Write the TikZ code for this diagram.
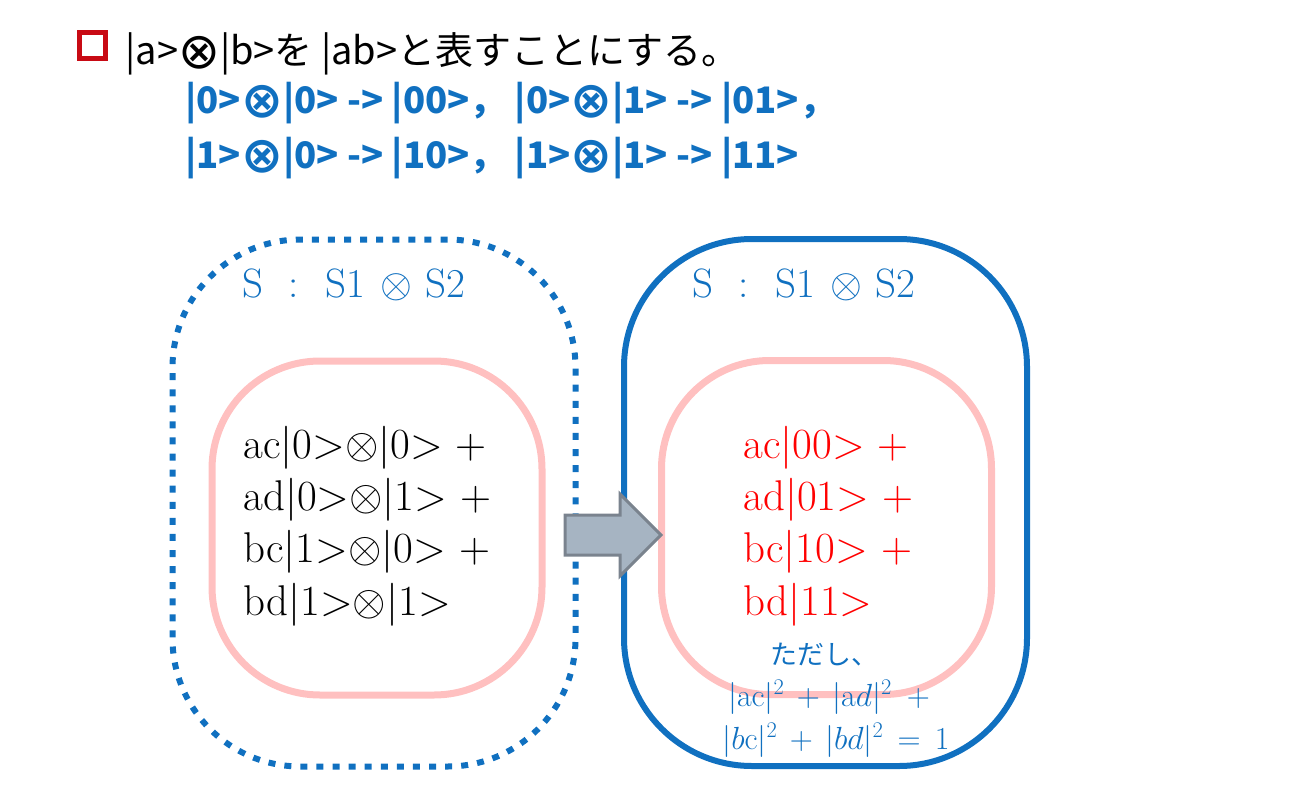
\documentclass[tikz,border=0pt]{standalone}
\usepackage{fix-cm}
\usepackage{fontspec}
\usepackage{amssymb}
\usepackage{tikz}
\usetikzlibrary{positioning}
\newfontfamily\jpfont{Noto Sans CJK JP}
\newfontfamily\symfont{DejaVu Sans}
\newcommand{\bigot}{{\symfont\fontsize{50}{50}\selectfont\raisebox{-4pt}{⊗}}}
\definecolor{qblue}{RGB}{16,112,192}
\definecolor{qpink}{RGB}{255,192,192}
\definecolor{qred}{RGB}{255,0,0}
\definecolor{qdarkred}{RGB}{200,10,20}
\definecolor{qgrayfill}{RGB}{166,180,194}
\definecolor{qgrayline}{RGB}{122,131,142}
\tikzset{every picture/.style={line width=0.75pt}}

\begin{document}
\begin{tikzpicture}[x=1pt,y=-1pt,
  outer/.style={rectangle,rounded corners=128pt,minimum width=403pt,minimum height=527pt,line width=6pt,draw=qblue},
  inner/.style={rectangle,rounded corners=108pt,minimum width=330pt,minimum height=334pt,line width=7pt,draw=qpink},
  ket/.style={anchor=base west,inner sep=0pt,font=\fontsize{43}{52}\selectfont},
  lbl/.style={anchor=base west,inner sep=0pt,text=qblue,font=\fontsize{41}{48}\selectfont},
  norm/.style={inner sep=0pt,text=qblue,font=\fontsize{32}{38}\selectfont},
  pairs/.style={anchor=base west,inner sep=0pt,text=qblue,font=\jpfont\bfseries\fontsize{36.5}{46}\selectfont}]
        \useasboundingbox (0,0) rectangle (1298,800);

        % heading
        \node[draw=qdarkred,line width=5pt,minimum size=26pt,inner sep=0pt] (mark) at (92.5,46) {};
        \node[anchor=base west,inner sep=0pt,font=\jpfont\fontsize{38}{44}\selectfont] (title) at (125,64)
            {|a>\bigot|b>を |ab>と表すことにする。};
        \node[pairs] (pairs1) at (185,113) {|0>\bigot|0> -> |00>， |0>\bigot|1> -> |01>，};
        \node[pairs] (pairs2) at (185,168) {|1>\bigot|0> -> |10>， |1>\bigot|1> -> |11>};

        % systems
        \node[outer,dash pattern=on 7pt off 9.08pt] (sepbox) at (374,503) {};
        \node[outer] (prodbox) at (825.5,502.5) {};
        \node[inner] (sepin) at (377,528) {};
        \node[inner] (prodin) at (826.5,527.5) {};

        \node[lbl] (seplbl) at (242,297) {S\hspace{25pt}:\hspace{27pt}S1\hspace{15pt}$\otimes$\hspace{13pt}S2};
        \node[lbl] (prodlbl) at (692,297) {S\hspace{25pt}:\hspace{27pt}S1\hspace{15pt}$\otimes$\hspace{13pt}S2};

        % separate kets
        \node[ket] (s00) at (243,458) {ac|0>$\otimes$|0> +};
        \node[ket] (s01) at (243,510) {ad|0>$\otimes$|1> +};
        \node[ket] (s10) at (243,562) {bc|1>$\otimes$|0> +};
        \node[ket] (s11) at (243,615) {bd|1>$\otimes$|1>};

        % joined kets
        \node[ket,text=qred] (p00) at (743,458) {ac|00> +};
        \node[ket,text=qred] (p01) at (743,510) {ad|01> +};
        \node[ket,text=qred] (p10) at (743,562) {bc|10> +};
        \node[ket,text=qred] (p11) at (743,615) {bd|11>};

        \node[inner sep=0pt,text=qblue,font=\jpfont\fontsize{27}{32}\selectfont] (note) at (824,655) {ただし、};
        \node[norm] (norm1) at (829,697) {$|\mathrm{ac}|^2 \,+\, |\mathrm{a}d|^2\ \,+$};
        \node[norm] (norm2) at (836,740) {$|b\mathrm{c}|^2 \,+\, |bd|^2 \,=\, 1$};

        % arrow
        \draw[line width=3pt,draw=qgrayline,fill=qgrayfill]
            (565,515) -- (620,515) -- (620,494) -- (661,535) -- (620,576) -- (620,555) -- (565,555) -- cycle;
    \end{tikzpicture}
\end{document}
